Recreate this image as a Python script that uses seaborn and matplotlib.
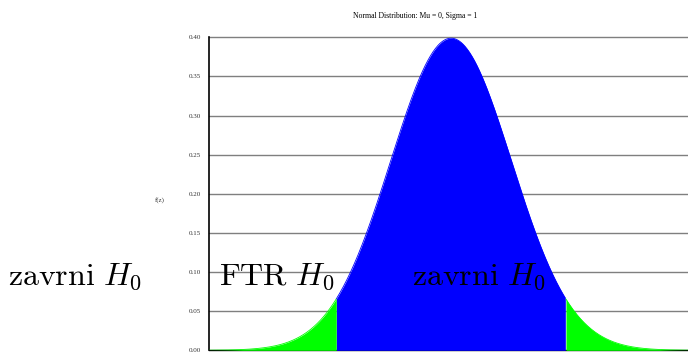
import numpy as np
import pandas as pd
import matplotlib
matplotlib.use("Agg")
import matplotlib.pyplot as plt
import seaborn as sns

sns.set_style("white")
plt.rcParams["font.family"] = ["Liberation Serif", "DejaVu Serif"]
plt.rcParams["mathtext.fontset"] = "cm"

# distribution parameters and rejection boundary
mu = 0.0
sigma = 1.0
z_crit = 1.9
x_min, x_max = -4.0, 4.0

x_ticks = [-4, -3, -2, -1, 0, 1, 2, 3, 4]
y_ticks = [0.00, 0.05, 0.10, 0.15, 0.20, 0.25, 0.30, 0.35, 0.40]
y_tick_labels = ["0.00", "0.05", "0.10", "0.15", "0.20", "0.25", "0.30", "0.35", "0.40"]

region_labels = [r"$\mathrm{zavrni}\ H_0$", r"$\mathrm{FTR}\ H_0$", r"$\mathrm{zavrni}\ H_0$"]
region_x = [-7.33, -3.84, -0.64]
region_y = [0.0835, 0.0835, 0.0835]

z = np.linspace(x_min, x_max, 801)
fz = np.exp(-0.5 * ((z - mu) / sigma) ** 2) / (sigma * np.sqrt(2 * np.pi))
df = pd.DataFrame({"z": z, "f": fz})

fig = plt.figure(figsize=(6.88, 3.6), dpi=100)
ax = fig.add_axes([0.3042, 0.0269, 0.7029, 0.8694])

# horizontal grid
for yv in y_ticks[1:]:
    ax.axhline(yv, color="#7f7f7f", lw=1.0, zorder=0, clip_on=False)

mid = (df.z >= -z_crit) & (df.z <= z_crit)
left = df.z <= -z_crit
right = df.z >= z_crit
ax.fill_between(df.z[mid], 0, df.f[mid], color="#0000ff", lw=0, zorder=2)
ax.fill_between(df.z[left], 0, df.f[left], color="#00ff00", lw=0, zorder=2)
ax.fill_between(df.z[right], 0, df.f[right], color="#00ff00", lw=0, zorder=2)
sns.lineplot(data=df[mid], x="z", y="f", ax=ax, color="#0000ff", lw=0.6, zorder=3)
sns.lineplot(data=df[left], x="z", y="f", ax=ax, color="#00ff00", lw=0.6, zorder=3)
sns.lineplot(data=df[right], x="z", y="f", ax=ax, color="#00ff00", lw=0.6, zorder=3)

ax.set_xlim(x_min, x_max)
ax.set_ylim(0, 0.4)

ax.set_xticks(x_ticks)
ax.set_xticklabels([str(t) for t in x_ticks], fontsize=5, color="#333333")
ax.set_yticks(y_ticks)
ax.set_yticklabels(y_tick_labels, fontsize=5, color="#333333")
ax.tick_params(axis="x", direction="inout", length=12, width=1, color="#333333", pad=1)
ax.tick_params(axis="y", direction="out", length=5, width=1, color="#7f7f7f", pad=1)

for s in ["top", "right"]:
    ax.spines[s].set_visible(False)
ax.spines["left"].set_color("black")
ax.spines["left"].set_linewidth(1.2)
ax.spines["bottom"].set_color("black")
ax.spines["bottom"].set_linewidth(1.0)
ax.spines["bottom"].set_zorder(1)

ax.set_xlabel("")
ax.set_ylabel("")
fig.text(160 / 688, 1 - 200 / 360, "f(z)", fontsize=5, ha="center", va="center",
         color="#333333")
fig.text(415 / 688, 1 - 16 / 360, "Normal Distribution: Mu = 0, Sigma = 1",
         fontsize=5.5, ha="center", va="center", color="black")

for lab, xv, yv in zip(region_labels, region_x, region_y):
    ax.text(xv, yv, lab, fontsize=23, ha="left", va="baseline", color="black",
            clip_on=False, zorder=5)

fig.savefig("out.png", dpi=100)
